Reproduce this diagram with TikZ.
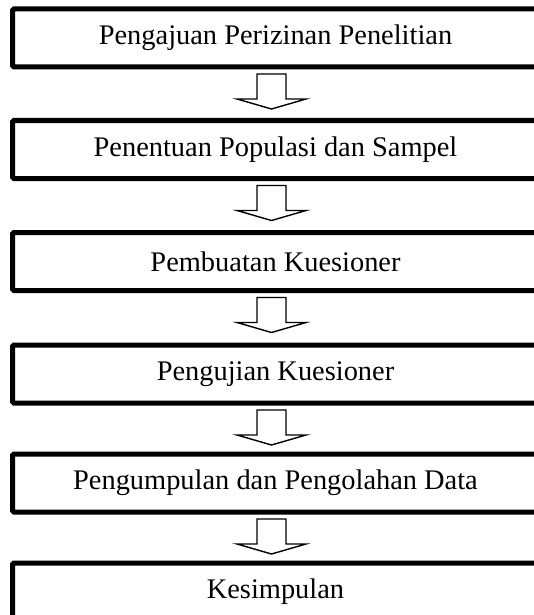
\documentclass[tikz,border=0pt]{standalone}
\usepackage{fontspec}
\setmainfont{Liberation Serif}
\usetikzlibrary{calc}
\begin{document}
\begin{tikzpicture}[x=1pt,y=-1pt,
  stepbox/.style={draw, line width=5pt, rounded corners=1.5pt, minimum width=526pt, minimum height=58pt, outer sep=0pt, inner sep=0pt, font=\fontsize{28.4}{30}\selectfont},
  flowarr/.style={draw, line width=1.4pt, line join=miter, fill=white}]
\useasboundingbox (0,0) rectangle (534,615);
\node[stepbox] (b1) at (275.5,38) {Pengajuan Perizinan Penelitian};
\node[stepbox] (b2) at (275.5,149.5) {Penentuan Populasi dan Sampel};
\node[stepbox] (b3) at (275.5,261.5) {Pembuatan Kuesioner};
\node[stepbox] (b4) at (275.5,374) {Pengujian Kuesioner};
\node[stepbox] (b5) at (275.5,483) {Pengumpulan dan Pengolahan Data};
\node[stepbox] (b6) at (275.5,592) {Kesimpulan};
\foreach \a/\b in {b1/b2,b2/b3,b3/b4,b4/b5,b5/b6}{
  \path[flowarr, shift={($(\a.south)+(-4,0)$)}]
    (-14.5,7) -- (14.5,7) -- (14.5,32) -- (34.5,32) -- (0,42) -- (-34.5,32) -- (-14.5,32) -- cycle;
}
\end{tikzpicture}
\end{document}
